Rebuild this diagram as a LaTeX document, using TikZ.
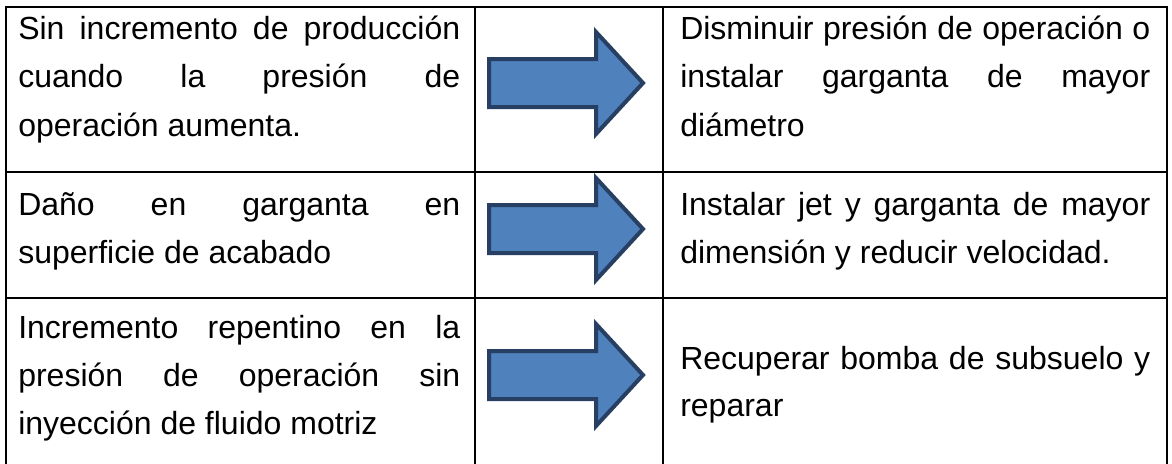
\documentclass[tikz,border=0pt]{standalone}
\usepackage{fontspec}
\setmainfont{Liberation Sans}
\definecolor{arrowfill}{HTML}{4F81BD}
\definecolor{arrowline}{HTML}{263F62}
\newcommand\jA[1]{\makebox[331.5pt][s]{#1}}
\newcommand\jB[1]{\makebox[352.5pt][s]{#1}}
\newcommand\blockarrowat[1]{%
  \draw[blockarrow] (489,#1-24) -- (596,#1-24) -- (596,#1-51) -- (643,#1)
    -- (596,#1+51) -- (596,#1+24) -- (489,#1+24) -- cycle;}
\begin{document}
\begin{tikzpicture}[x=0.75pt,y=-0.75pt,
  tableline/.style={line width=1.6pt,black},
  cell/.style={anchor=base west,inner sep=0pt,font=\fontsize{24pt}{36pt}\selectfont},
  blockarrow/.style={fill=arrowfill,draw=arrowline,line width=3pt,line join=miter}]
\useasboundingbox (0,0) rectangle (1172,464);
\fill[white] (0,0) rectangle (1172,464);
% table lines
\coordinate (tl) at (6,7);
\coordinate (tr) at (1167,7);
\coordinate (bl) at (6,464);
\coordinate (br) at (1167,464);
\coordinate (d1t) at (475,7);
\coordinate (d1b) at (475,464);
\coordinate (d2t) at (663,7);
\coordinate (d2b) at (663,464);
\coordinate (r1l) at (6,172);
\coordinate (r1r) at (1167,172);
\coordinate (r2l) at (6,298);
\coordinate (r2r) at (1167,298);
\draw[tableline] (bl) -- (tl) -- (tr) -- (br);
\draw[tableline] (d1t) -- (d1b);
\draw[tableline] (d2t) -- (d2b);
\draw[tableline] (r1l) -- (r1r);
\draw[tableline] (r2l) -- (r2r);
% arrows
\blockarrowat{83}
\blockarrowat{229}
\blockarrowat{375}
% row 1
\node[cell] (a1) at (18,39) {\jA{Sin incremento de producción}};
\node[cell] (a2) at (18,87) {\jA{cuando la presión de}};
\node[cell] (a3) at (18,136) {operación aumenta.};
\node[cell] (b1) at (680,39) {\jB{Disminuir presión de operación o}};
\node[cell] (b2) at (680,87) {\jB{instalar garganta de mayor}};
\node[cell] (b3) at (680,136) {diámetro};
% row 2
\node[cell] (c1) at (18,215) {\jA{Daño en garganta en}};
\node[cell] (c2) at (18,263) {superficie de acabado};
\node[cell] (d1) at (680,215) {\jB{Instalar jet y garganta de mayor}};
\node[cell] (d2) at (680,263) {dimensión y reducir velocidad.};
% row 3
\node[cell] (e1) at (18,338) {\jA{Incremento repentino en la}};
\node[cell] (e2) at (18,386) {\jA{presión de operación sin}};
\node[cell] (e3) at (18,434) {inyección de fluido motriz};
\node[cell] (f1) at (680,369) {\jB{Recuperar bomba de subsuelo y}};
\node[cell] (f2) at (680,416) {reparar};
\end{tikzpicture}
\end{document}
